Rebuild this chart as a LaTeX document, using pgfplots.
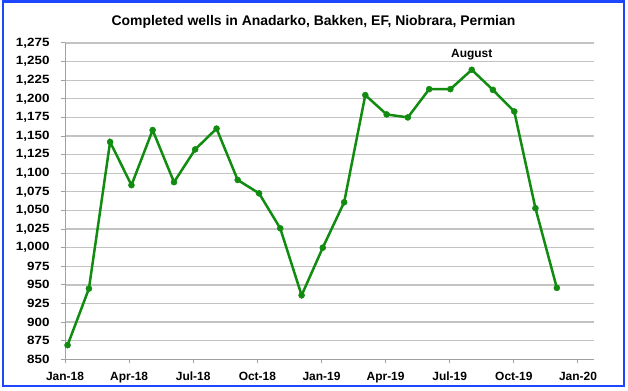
\documentclass[border=0pt]{standalone}
\usepackage{fontspec}
\setmainfont{Liberation Sans}
\newfontfamily\ytickfont[FakeStretch=1.12]{Liberation Sans}
\usepackage{pgfplots}
\pgfplotsset{compat=1.18}
\definecolor{ln}{RGB}{17,140,17}
\definecolor{bord}{RGB}{30,70,255}
\definecolor{grd}{RGB}{195,195,195}
\definecolor{axl}{RGB}{160,160,160}
\begin{document}
\begin{tikzpicture}
\path[use as bounding box] (0bp,0bp) rectangle (628bp,391bp);
\draw[bord, line width=2.3bp] (3bp,5.2bp) rectangle (624.3bp,389.6bp);
\node[font=\bfseries\fontsize{14}{16}\selectfont, anchor=base] at (313.5bp,365bp) {Completed wells in Anadarko, Bakken, EF, Niobrara, Permian};
\begin{axis}[
  at={(65bp,31.7bp)}, anchor=south west,
  scale only axis, width=529bp, height=316.3bp,
  xmin=0, xmax=24.75, ymin=850, ymax=1275,
  ytick={850,875,...,1275},
  xtick={0,3,...,24},
  xticklabels={Jan-18,Apr-18,Jul-18,Oct-18,Jan-19,Apr-19,Jul-19,Oct-19,Jan-20},
  axis x line*=bottom, axis y line*=left,
  ymajorgrids, grid style={grd, line width=1.3bp},
  axis line style={axl, line width=1bp},
  tick style={axl, line width=1bp},
  tick align=outside, major tick length=4bp,
  xticklabel style={font=\bfseries\fontsize{12}{14}\selectfont, yshift=-5bp},
  yticklabel style={font=\ytickfont\bfseries\fontsize{12}{14}\selectfont, xshift=-8bp},
  /pgf/number format/assume math mode=true,
  /pgf/number format/1000 sep={,},
  clip=false,
]
\addplot[ln, line width=2.5bp, mark=*, mark size=3bp, mark options={fill=ln, draw=ln, line width=0.5bp}] coordinates {
(0.12,869) (1.12,945) (2.11,1142) (3.11,1084) (4.10,1158) (5.10,1088)
(6.09,1132) (7.09,1160) (8.08,1091) (9.08,1073) (10.07,1026) (11.07,936)
(12.06,1000) (13.06,1061) (14.05,1205) (15.05,1179) (16.04,1175) (17.04,1213)
(18.03,1213) (19.03,1239) (20.02,1212) (21.02,1183) (22.01,1053) (23.01,946)
};
\node[font=\bfseries\fontsize{12}{14}\selectfont, anchor=base, yshift=12.4bp] at (axis cs:19.03,1239) {August};
\end{axis}
\end{tikzpicture}
\end{document}
